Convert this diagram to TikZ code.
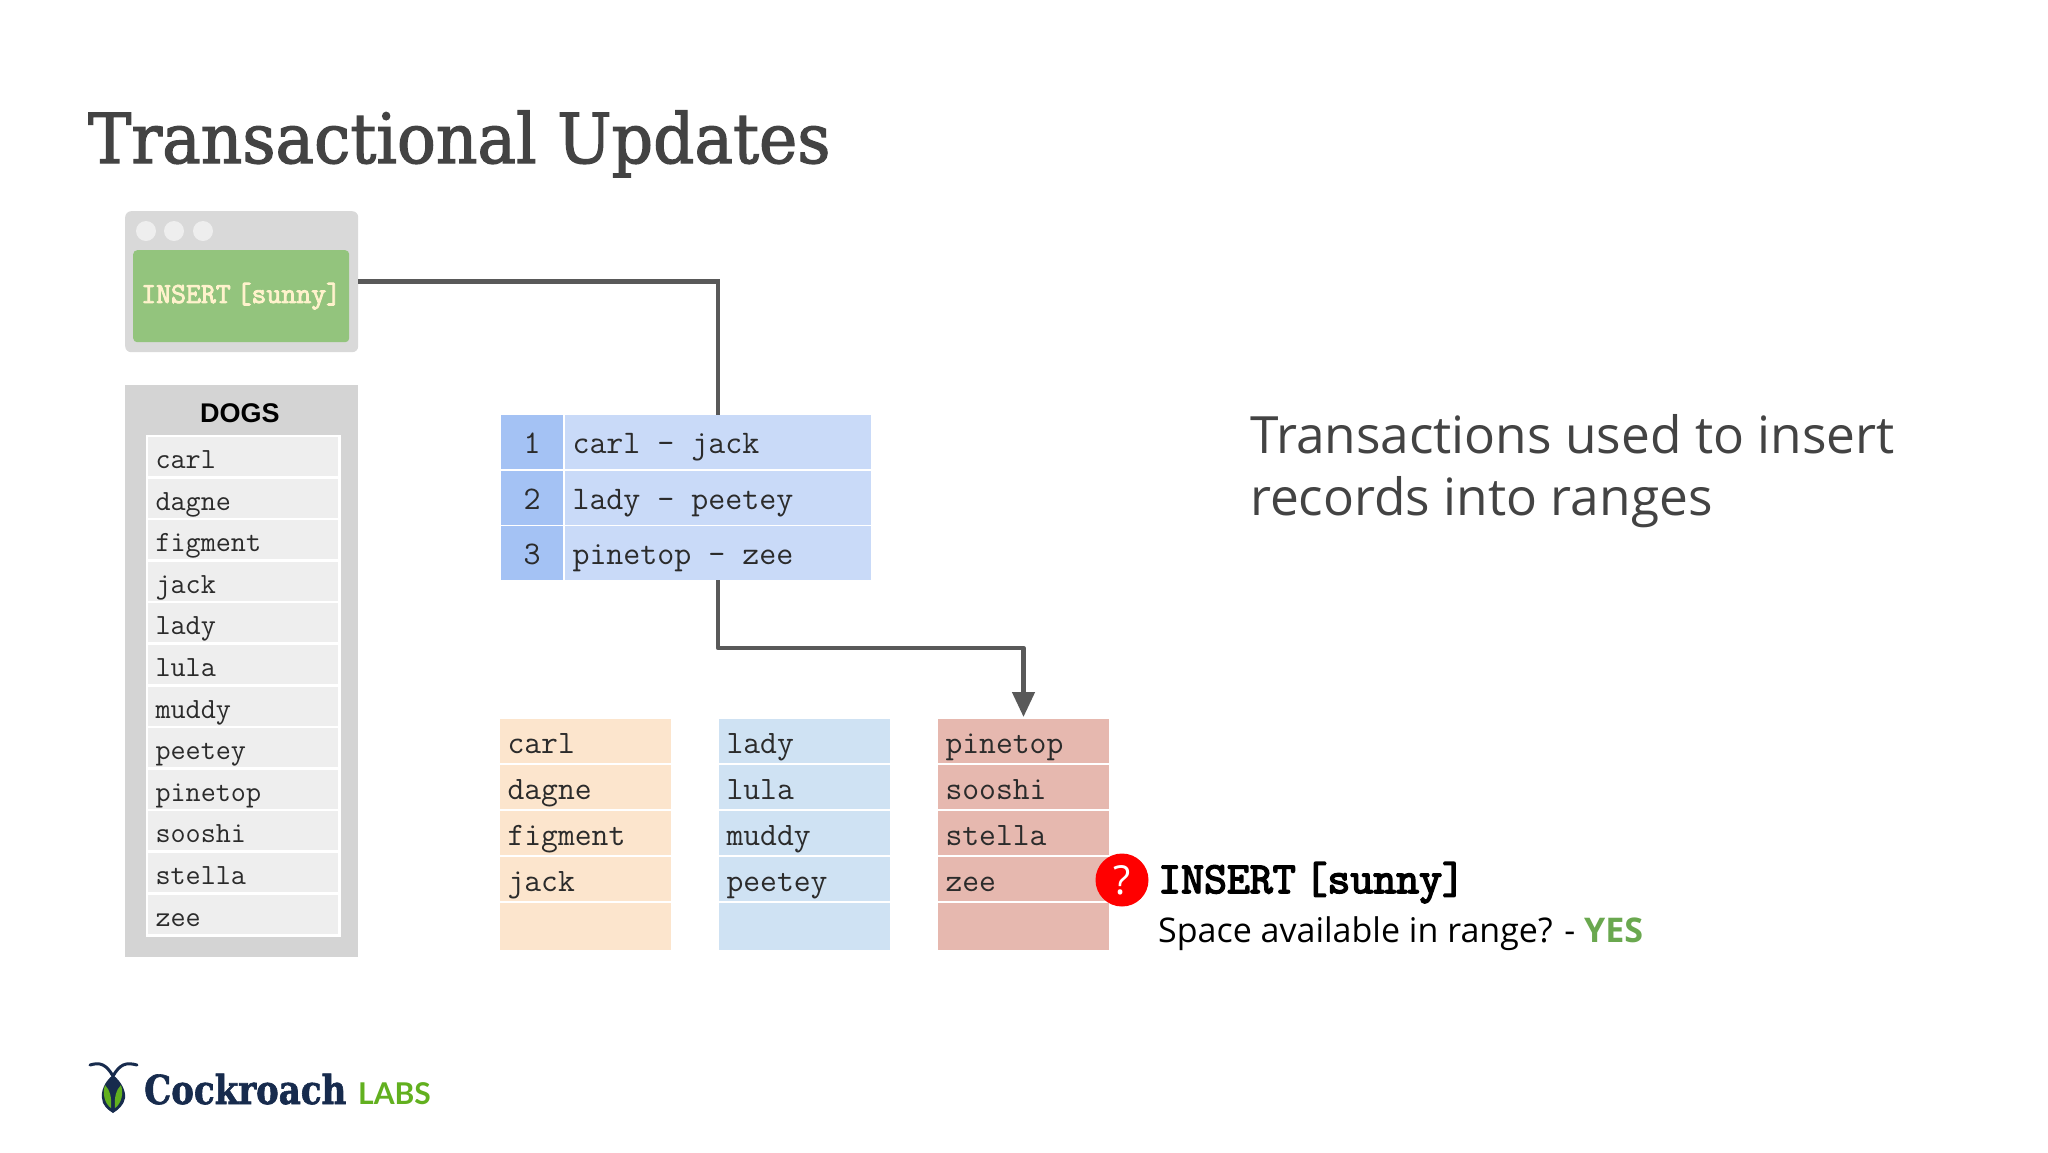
\documentclass[tikz,border=0pt]{standalone}
\usepackage{fontspec}
\usetikzlibrary{arrows.meta}
\setmainfont{Open Sans}
\newfontfamily\titlef{DejaVu Serif}[FakeStretch=0.937,FakeBold=1.8]
\newfontfamily\brandf{DejaVu Serif}[FakeStretch=0.85,FakeBold=1.5]
\newfontfamily\helv{Liberation Sans}
\newfontfamily\labsf{Lato}
\newfontfamily\boldmonoa{Latin Modern Mono}[FakeBold=3]
\newfontfamily\boldmonob{Latin Modern Mono}[FakeBold=3.5]
\newcommand{\fsz}[1]{\fontsize{#1}{#1}\selectfont}
\newcommand{\fullmono}[1]{\ttfamily\fsz{#1}}
\newcommand{\tightsp}{\spaceskip=0.2em\relax}
\definecolor{wingray}{HTML}{D9D9D9}
\definecolor{dogpanel}{HTML}{D4D4D4}
\definecolor{dogrow}{HTML}{EEEEEE}
\definecolor{wingreen}{HTML}{93C47D}
\definecolor{cream}{HTML}{FFF2CC}
\definecolor{numblue}{HTML}{A4C2F4}
\definecolor{rangeblue}{HTML}{C9DAF8}
\definecolor{colorange}{HTML}{FCE5CD}
\definecolor{colblue}{HTML}{CFE2F3}
\definecolor{colred}{HTML}{E6B8AF}
\definecolor{linegray}{HTML}{595959}
\definecolor{titlegray}{HTML}{434343}
\definecolor{monotext}{HTML}{2B2B2B}
\definecolor{yesgreen}{HTML}{6AA84F}
\definecolor{navy}{HTML}{172B4D}
\definecolor{leaf}{HTML}{62B01F}
\tikzset{
  txt/.style={anchor=base west,inner sep=0pt},
  box/.style={anchor=north west,inner ysep=0pt,outer sep=0pt,align=flush left,text=monotext},
  dogcell/.style={box,fill=dogrow,minimum width=190pt,text width=175pt,inner xsep=7.5pt,
    text height=31.5pt,text depth=7.5pt,font=\fullmono{29.3}},
  rangecell/.style={box,fill=rangeblue,text width=291pt,inner xsep=7.5pt,
    text height=38pt,text depth=16pt,font=\fullmono{33}},
  numcell/.style={anchor=north west,inner xsep=0pt,inner ysep=0pt,outer sep=0pt,align=center,fill=numblue,
    text=monotext,text width=62pt,text height=38pt,text depth=16pt,font=\fullmono{33}},
  colcell/.style={box,text width=156pt,inner xsep=7.5pt,text height=34pt,text depth=10pt,font=\fullmono{32.7}},
  lastcell/.style={colcell,text depth=13pt},
  link/.style={draw=linegray,line width=4.5pt},
}
\begin{document}
\begin{tikzpicture}[x=1pt,y=-1pt]
\useasboundingbox (0,0) rectangle (2048,1152);
\fill[white] (0,0) rectangle (2048,1152);

\node[txt,text=titlegray,font=\titlef\fsz{69}] (title) at (88,163) {Transactional Updates};

% client window
\node[anchor=north west,fill=wingray,rounded corners=6pt,minimum width=233pt,minimum height=141pt,inner sep=0pt] (win) at (125,211) {};
\foreach \n/\x in {a/146,b/174,c/203}
  \node[circle,fill=dogrow,minimum size=20pt,inner sep=0pt] (dot\n) at (\x,231) {};
\node[anchor=north west,fill=wingreen,rounded corners=4pt,minimum width=216pt,minimum height=92pt,inner sep=0pt,
  text=cream,font=\boldmonoa\fsz{29}\tightsp] (cmd) at (133,250) {INSERT [sunny]};

% dogs table
\node[anchor=north west,fill=dogpanel,minimum width=233pt,minimum height=572pt,inner sep=0pt] (panel) at (125,385) {};
\node[txt,font=\bfseries\helv\fsz{27}] (dogs) at (200,422) {DOGS};
\fill[white] (146,435) rectangle (341,937);
\foreach \i/\t in {0/carl,1/dagne,2/figment,3/jack,4/lady,5/lula,6/muddy,7/peetey,8/pinetop,9/sooshi,10/stella,11/zee}
  \node[dogcell] (dog\i) at (148,{437+\i*41.6}) {\t};

% ranges
\foreach \i/\y/\t/\s in {1/415/carl - jack/1,2/471/lady - peetey/2,3/526/pinetop - zee/3}{
  \node[numcell] (num\i) at (501,\y) {\s};
  \node[rangecell] (range\i) at (565,\y) {\t};
}

% columns
\foreach \c/\x/\col/\a/\b/\d/\e in {o/500/colorange/carl/dagne/figment/jack,
                                   b/719/colblue/lady/lula/muddy/peetey,
                                   r/938/colred/pinetop/sooshi/stella/zee}{
  \node[colcell,fill=\col] (\c1) at (\x,719) {\a};
  \node[colcell,fill=\col] (\c2) at (\x,765) {\b};
  \node[colcell,fill=\col] (\c3) at (\x,811) {\d};
  \node[colcell,fill=\col] (\c4) at (\x,857) {\e};
  \node[lastcell,fill=\col] (\c5) at (\x,903) {\strut};
}

% connectors
\draw[link] (win.east) -| (range1.north);
\coordinate (bend) at (718,648);
\draw[link,-{Triangle[width=22pt,length=25pt]},shorten >=2pt,line join=round] (range3.south) -- (bend) -| (r1.north);

% annotation
\node[circle,fill=red,minimum size=53pt,inner sep=0pt,text=white,font=\fsz{40}] (q) at (1122,880) {?};
\node[txt,font=\boldmonob\fsz{44.5}\tightsp] (ins) at (1158,893) {INSERT [sunny]};
\node[txt,font=\fsz{34}] (space) at (1158,942) {Space available in range? - \textcolor{yesgreen}{\bfseries YES}};

% side text
\node[txt,text=titlegray,font=\fsz{51.4}] (side1) at (1250,453.5) {Transactions used to insert};
\node[txt,text=titlegray,font=\fsz{51.4}] (side2) at (1250,515.5) {records into ranges};

% logo
\draw[navy,line width=3pt,line cap=round] (90,1065) .. controls (100,1062) and (106,1064) .. (113,1076)
  .. controls (120,1064) and (126,1062) .. (137,1065);
\fill[navy] (113,1075) .. controls (122,1082) and (126,1092) .. (125,1098)
  .. controls (124,1105) and (118,1110) .. (113,1113)
  .. controls (108,1110) and (102,1105) .. (102,1098)
  .. controls (101,1092) and (104,1082) .. (113,1075) -- cycle;
\fill[leaf] (111,1108) .. controls (105,1104) and (102,1094) .. (105,1085) .. controls (110,1090) and (112,1098) .. (111,1108) -- cycle;
\fill[leaf] (115,1108) .. controls (121,1104) and (124,1094) .. (121,1085) .. controls (116,1090) and (114,1098) .. (115,1108) -- cycle;
\node[txt,text=navy,font=\bfseries\brandf\fsz{40}] (brand) at (144,1104) {Cockroach};
\node[txt,text=leaf,font=\bfseries\labsf\fsz{30}] (labs) at (358,1104) {LABS};
\end{tikzpicture}
\end{document}
